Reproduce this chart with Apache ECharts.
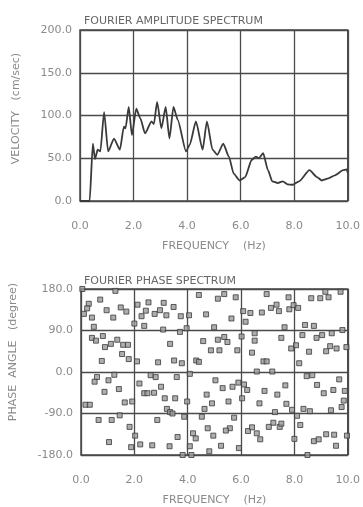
<!DOCTYPE html>
<html><head><meta charset="utf-8">
<script src="https://cdn.jsdelivr.net/npm/echarts@6/dist/echarts.min.js"></script>
<style>html,body{margin:0;padding:0;background:#fff}#c{width:363px;height:507px}</style>
</head><body><div id="c"></div>
<script>
// Amplitude spectrum (Hz, cm/sec)
const ampFreq = [0, 0.36, 0.48, 0.56, 0.66, 0.76, 0.90, 1.05, 1.27, 1.49, 1.64, 1.70, 1.82, 1.94, 2.10, 2.25, 2.43, 2.67, 2.76, 2.88, 3.04, 3.20, 3.34, 3.49, 3.65, 3.96, 4.10, 4.33, 4.58, 4.74, 4.95, 5.13, 5.35, 5.56, 5.74, 5.96, 6.17, 6.41, 6.57, 6.68, 6.84, 7.02, 7.18, 7.39, 7.57, 7.75, 7.94, 8.18, 8.57, 8.85, 9.03, 9.28, 9.52, 9.83, 9.96, 10.0];
const ampValue = [0, 0, 67, 49, 60, 58, 104, 58, 73, 60, 87, 85, 110, 77, 108, 97, 79, 93, 90, 116, 85, 110, 73, 110, 95, 58, 66, 93, 60, 93, 60, 54, 67, 52, 32, 24, 28, 48, 52, 50, 56, 36, 23, 21, 23, 19.5, 19, 23, 36, 28, 24, 26.5, 30, 36, 37, 33];

// Phase spectrum (Hz, degree)
const phaseFreq = [0.05, 1.29, 0.72, 0.29, 0.23, 0.11, 0.41, 0.96, 1.49, 1.70, 1.21, 0.48, 2.12, 2.53, 3.10, 3.47, 2.43, 2.76, 2.96, 3.20, 2.27, 3.74, 4.05, 2.00, 2.37, 3.08, 3.71, 3.96, 4.42, 4.69, 4.99,
  0.41, 0.56, 0.82, 1.12, 0.90, 1.36, 1.58, 1.76, 1.54, 1.79, 0.78, 2.10, 2.89, 3.34, 3.49, 3.78, 4.32, 4.42, 4.58, 4.87,
  5.13, 5.37, 5.80, 6.96, 7.78, 8.63, 8.97, 9.28, 9.16, 9.73, 6.08, 6.35, 6.78, 7.12, 7.33, 7.42, 7.81, 7.97, 8.14, 5.64, 6.17, 7.63, 8.40, 8.73, 9.80,
  5.13, 5.37, 5.49, 6.02, 6.51, 6.51, 7.51, 8.30, 8.83, 9.04, 9.40, 9.34, 9.58, 9.95, 8.06, 7.88, 8.55, 9.19, 5.19, 5.86, 6.41, 6.84, 6.96, 8.18, 6.59, 7.17,
  0.60, 0.51, 1.03, 1.25, 0.88, 1.42, 0.17, 0.33, 1.64, 1.92, 0.66, 1.15, 1.45, 1.82, 2.03, 1.05, 1.88, 2.22, 2.67, 3.32, 2.61, 2.80, 2.19, 2.37, 2.49, 2.74, 3.00, 3.14, 3.53, 3.59, 3.22, 3.34, 3.43, 3.98, 3.87, 2.86, 3.62, 4.08, 4.20, 4.30, 4.08, 3.81, 4.14, 4.71, 4.91, 4.63, 4.53, 4.75, 4.96, 4.81,
  5.04, 5.31, 5.68, 5.90, 6.11, 6.23, 5.53, 6.04, 6.88, 7.36, 7.66, 6.69, 7.27, 7.70, 7.91, 8.10, 8.34, 8.58, 8.46, 8.67, 8.85, 9.10, 9.46, 9.68, 9.89, 9.85, 9.77, 9.37, 5.74, 5.58, 5.43, 6.26, 6.41, 6.59, 6.72, 7.04, 7.21, 7.45, 7.51, 8.22, 8.00, 8.73, 8.91, 9.19, 9.49, 9.56, 9.97, 5.25, 5.92, 8.49];
const phaseAngle = [180, 176, 157, 148, 138, 126, 118, 134, 140, 131, 118, 98, 146, 151, 150, 141, 133, 126, 134, 123, 121, 121, 123, 105, 100, 92, 87, 95, 167, 125, 97,
  74, 68, 78, 61, 54, 70, 59, 59, 39, 28, 24, 23, 21, 61, 25, 19, 25, 22, 67, 47,
  159, 169, 162, 169, 162, 160, 160, 162, 174, 174, 132, 128, 129, 139, 146, 132, 136, 145, 139, 116, 109, 97, 102, 100, 91,
  70, 76, 65, 77, 84, 68, 74, 80, 74, 80, 84, 56, 51, 54, 58, 51, 44, 45, 47, 47, 42, 23, 23, 19, 1, 1,
  -11, -21, -18, -6, -43, -37, -71, -71, -66, -64, -104, -104, -94, -119, -138, -152, -163, -157, -159, -161, -7, -11, -25, -46, -46, -45, -32, -57, -57, -11, -80, -87, -90, -64, -97, -104, -141, -4, -133, -144, -161, -180, -180, -49, -68, -80, -97, -122, -138, -172,
  -18, -35, -32, -23, -27, -39, -64, -57, -41, -49, -29, -68, -87, -69, -82, -95, -80, -85, -9, -7, -28, -46, -39, -16, -41, -62, -76, -83, -99, -122, -127, -128, -120, -133, -146, -119, -110, -119, -112, -115, -145, -150, -146, -135, -136, -160, -138, -160, -165, -180];

const xTicks = [0, 2, 4, 6, 8, 10];

const font = 'DejaVu Sans';
const textGray = '#8a8a8a';
const lineGray = '#4a4a4a';

function xAxisCfg(gridIndex) {
  return {
    gridIndex, type: 'value', min: 0, max: 10, interval: 2,
    name: 'FREQUENCY    (Hz)', nameLocation: 'middle', nameGap: 40,
    nameTextStyle: { color: textGray, fontFamily: font, fontSize: 11 },
    axisLine: { show: false }, axisTick: { show: false },
    axisLabel: { color: textGray, fontFamily: font, fontSize: 11, margin: 20, formatter: v => v.toFixed(1) },
    splitLine: { show: true, lineStyle: { color: lineGray, width: 1.3 } }
  };
}

const chart = echarts.init(document.getElementById('c'), null, { renderer: 'canvas' });
chart.setOption({
  backgroundColor: '#fff',
  animation: false,
  title: [
    { text: 'FOURIER AMPLITUDE SPECTRUM', left: 79, top: 11, textStyle: { color: '#666', fontFamily: font, fontSize: 11, fontWeight: 'normal' } },
    { text: 'FOURIER PHASE SPECTRUM', left: 79, top: 271, textStyle: { color: '#666', fontFamily: font, fontSize: 11, fontWeight: 'normal' } }
  ],
  grid: [
    { left: 80, right: 10, top: 30, height: 171, show: true, borderColor: lineGray, borderWidth: 1.5, backgroundColor: 'transparent' },
    { left: 80, right: 10, top: 289, height: 170, show: true, borderColor: lineGray, borderWidth: 1.5, backgroundColor: 'transparent' }
  ],
  xAxis: [xAxisCfg(0), xAxisCfg(1)],
  yAxis: [
    {
      gridIndex: 0, type: 'value', min: 0, max: 200, interval: 50,
      name: 'VELOCITY   (cm/sec)', nameLocation: 'middle', nameGap: 58, nameRotate: 90,
      nameTextStyle: { color: textGray, fontFamily: font, fontSize: 11, padding: [0, 0, 0, 14] },
      axisLine: { show: false }, axisTick: { show: false },
      axisLabel: { color: textGray, fontFamily: font, fontSize: 11, margin: 8, formatter: v => v.toFixed(1) },
      splitLine: { show: true, lineStyle: { color: lineGray, width: 1.3 } }
    },
    {
      gridIndex: 1, type: 'value', min: -180, max: 180, interval: 90,
      name: 'PHASE  ANGLE   (degree)', nameLocation: 'middle', nameGap: 62, nameRotate: 90,
      nameTextStyle: { color: textGray, fontFamily: font, fontSize: 11, padding: [0, 0, 0, 40] },
      axisLine: { show: false }, axisTick: { show: false },
      axisLabel: { color: textGray, fontFamily: font, fontSize: 11, margin: 8, formatter: v => v.toFixed(1) },
      splitLine: { show: true, lineStyle: { color: lineGray, width: 1.3 } }
    }
  ],
  series: [
    {
      type: 'line', xAxisIndex: 0, yAxisIndex: 0,
      data: ampFreq.map((f, i) => [f, ampValue[i]]),
      showSymbol: false, smooth: 0.2, smoothMonotone: 'x',
      lineStyle: { color: '#3a3a3a', width: 1.8 }
    },
    {
      type: 'scatter', xAxisIndex: 1, yAxisIndex: 1,
      data: phaseFreq.map((f, i) => [f, phaseAngle[i]]),
      symbol: 'rect', symbolSize: 5,
      itemStyle: { color: '#9a9a9a', borderColor: '#3a3a3a', borderWidth: 1 }
    }
  ]
});
</script></body></html>
